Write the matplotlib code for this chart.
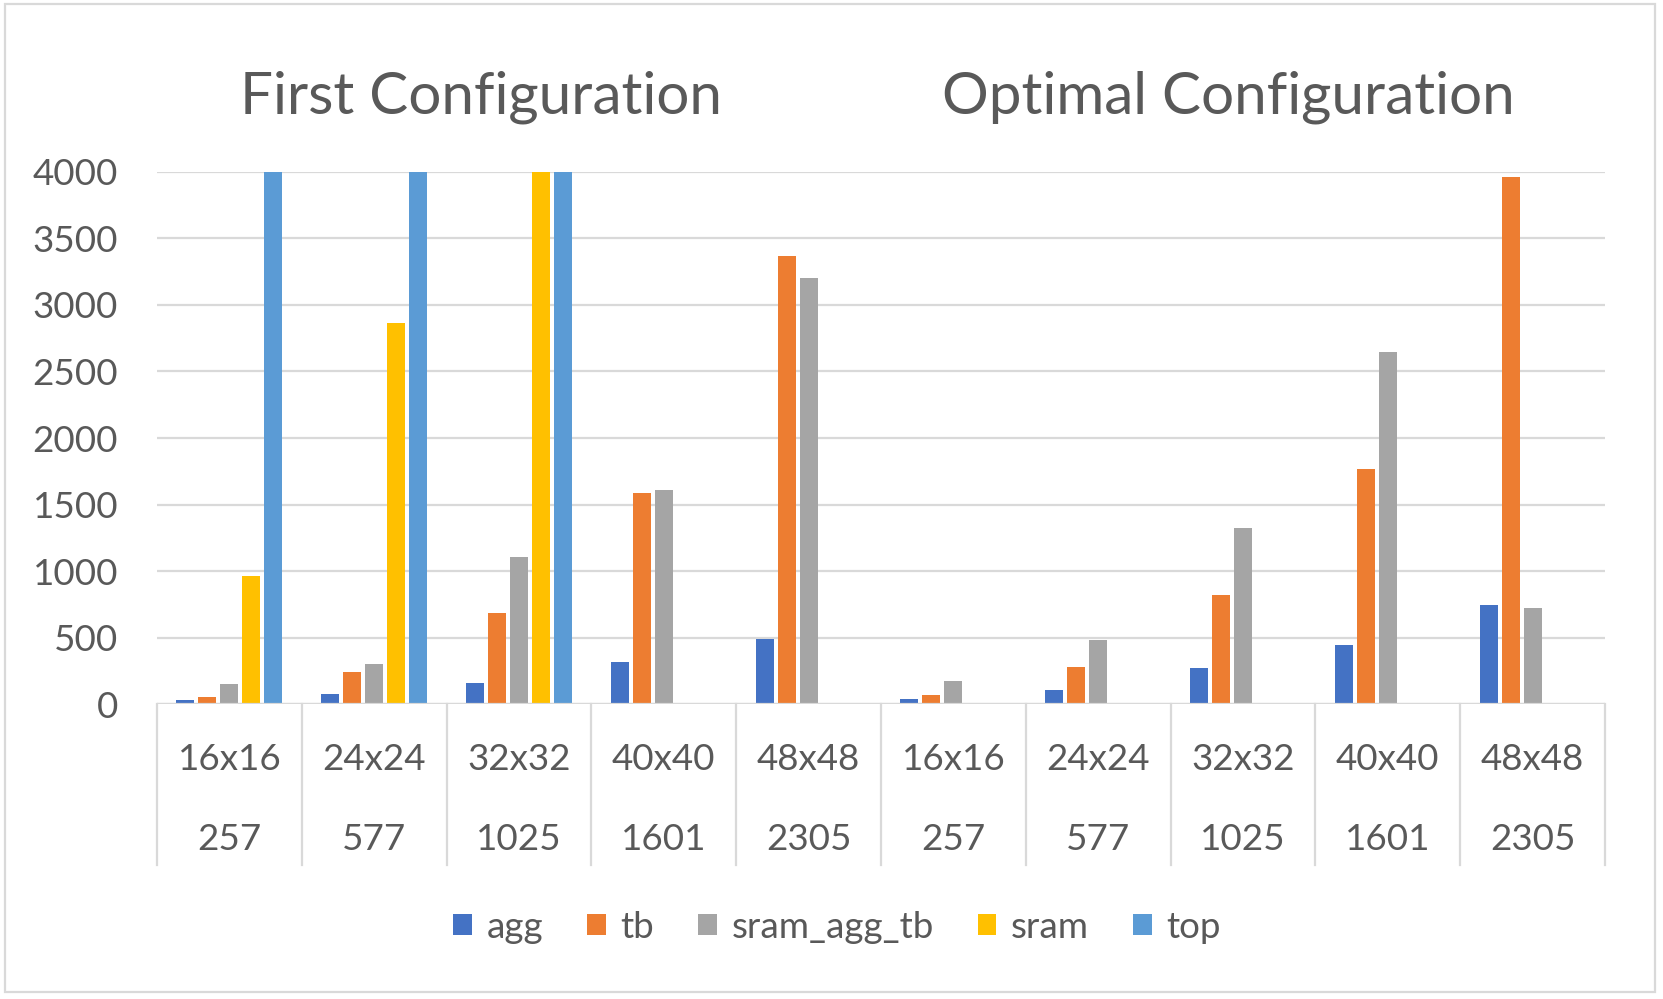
import matplotlib
matplotlib.use("Agg")
import matplotlib.pyplot as plt
import numpy as np
from matplotlib.transforms import blended_transform_factory
from matplotlib.patches import Rectangle, Patch
from matplotlib.lines import Line2D

# ---- data ----
sizes = ["16x16", "24x24", "32x32", "40x40", "48x48",
         "16x16", "24x24", "32x32", "40x40", "48x48"]
counts = ["257", "577", "1025", "1601", "2305",
          "257", "577", "1025", "1601", "2305"]
series_names = ["agg", "tb", "sram_agg_tb", "sram", "top"]
agg = [30, 81, 161, 320, 494, 38, 106, 270, 449, 746]
tb = [55, 244, 688, 1585, 3370, 70, 277, 822, 1769, 3960]
sram_agg_tb = [149, 305, 1110, 1610, 3203, 176, 484, 1323, 2645, 721]
sram = [963, 2860, 4000, np.nan, np.nan, np.nan, np.nan, np.nan, np.nan, np.nan]
top = [4000, 4000, 4000, np.nan, np.nan, np.nan, np.nan, np.nan, np.nan, np.nan]
titles = ["First Configuration", "Optimal Configuration"]
yticks = [0, 500, 1000, 1500, 2000, 2500, 3000, 3500, 4000]

colors = ["#4472C4", "#ED7D31", "#A5A5A5", "#FFC000", "#5B9BD5"]
TXT = "#595959"
GRID = "#D9D9D9"
FONT = ["Lato", "DejaVu Sans"]
plt.rcParams["font.family"] = FONT

W, H = 1663, 999
fig = plt.figure(figsize=(W / 100, H / 100), dpi=100)
fig.patch.set_facecolor("white")

L, R, B, T = 157, 1605, 704.3, 171.7
ax = fig.add_axes([L / W, 1 - B / H, (R - L) / W, (B - T) / H])

data = [agg, tb, sram_agg_tb, sram, top]
n = len(sizes)
x = np.arange(n)
bw = 0.124
step = 0.152
for i, (vals, c) in enumerate(zip(data, colors)):
    ax.bar(x + (i - 2) * step, vals, width=bw, color=c, zorder=3)

FS = 26.5
ax.set_xlim(-0.5, n - 0.5)
ax.set_ylim(0, 4000)
ax.set_yticks(yticks)
ax.set_yticklabels([str(v) for v in yticks], fontsize=FS, color=TXT)
ax.tick_params(axis="y", length=0, pad=28)
ax.set_xticks([])
for s in ax.spines.values():
    s.set_visible(False)
ax.grid(axis="y", color=GRID, linewidth=1.6, zorder=0)
ax.set_axisbelow(True)

# category axis baseline
ax.axhline(0, color=GRID, linewidth=1.6, zorder=4)

trans = blended_transform_factory(ax.transData, fig.transFigure)
y_top = 1 - B / H
y_bot = 1 - 865 / H
for b in np.arange(-0.5, n + 0.5, 1.0):
    fig.add_artist(Line2D([b, b], [y_top, y_bot], transform=trans,
                          color=GRID, linewidth=1.6))
for i in range(n):
    fig.text(x[i], 1 - 760 / H, sizes[i], transform=trans, ha="center",
             va="center", fontsize=FS, color=TXT)
    fig.text(x[i], 1 - 840 / H, counts[i], transform=trans, ha="center",
             va="center", fontsize=FS, color=TXT)

# titles
fig.text(481 / W, 1 - 97.5 / H, titles[0], ha="center", va="center",
         fontsize=42, color=TXT)
fig.text(1228 / W, 1 - 97.5 / H, titles[1], ha="center", va="center",
         fontsize=42, color=TXT)

# legend
handles = [Patch(facecolor=c, edgecolor="none") for c in colors]
leg = fig.legend(handles, series_names, loc="center", ncol=5,
                 bbox_to_anchor=(837 / W, 1 - 927 / H), frameon=False,
                 fontsize=FS, handlelength=0.5, handleheight=0.5,
                 handletextpad=0.4, columnspacing=1.2, borderpad=0)
for t in leg.get_texts():
    t.set_color(TXT)

# chart border
fig.add_artist(Rectangle((5 / W, 1 - 992 / H), 1650 / W, 988 / H,
                         transform=fig.transFigure, fill=False,
                         edgecolor=GRID, linewidth=1.6))

fig.savefig("out.png", dpi=100)
